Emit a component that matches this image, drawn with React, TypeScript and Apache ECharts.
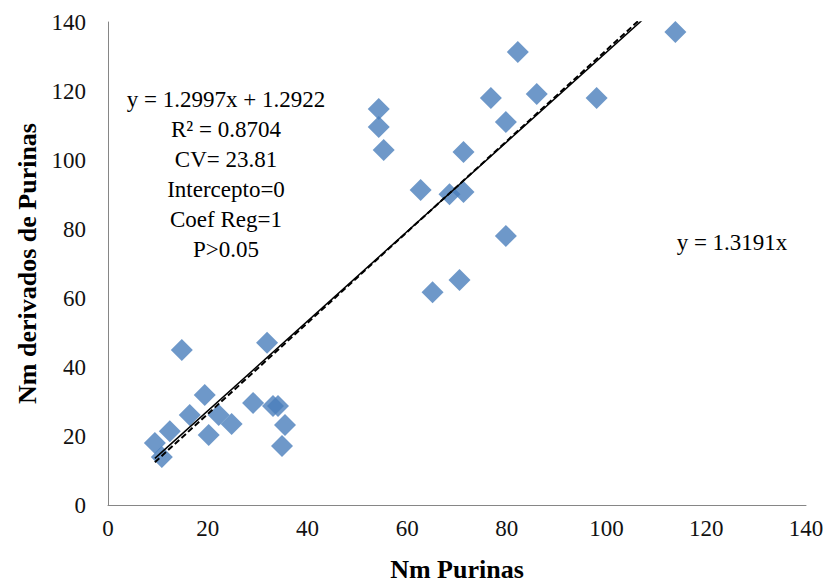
import React, { useEffect, useRef } from "react";
import * as echarts from "echarts";

// Observed purine values (x) and purine-derivative values (y)
const nmPurinas = [
  113.8, 82.2, 86.0, 76.8, 98.0, 79.8, 54.3, 54.3, 55.3, 71.3, 62.7, 68.5, 71.3,
  79.8, 65.1, 70.5, 14.8, 31.9, 19.4, 16.4, 29.1, 22.2, 24.8, 33.1, 34.1, 35.5,
  34.9, 20.2, 12.4, 9.4, 10.8,
];
const nmDerivados = [
  137.1, 131.3, 119.1, 118.0, 118.0, 111.0, 114.8, 109.6, 102.9, 102.3, 91.3, 90.1,
  90.7, 78.0, 61.7, 65.2, 44.9, 47.0, 31.9, 26.1, 29.6, 26.1, 23.5, 28.7, 28.7,
  23.2, 17.1, 20.3, 21.4, 18.0, 13.9,
];

// Fitted regressions
const slopeFit = 1.2997;
const interceptFit = 1.2922;
const slopeOrigin = 1.3191;

const xTicks = [0, 20, 40, 60, 80, 100, 120, 140];

const statsLines = [
  "y = 1.2997x + 1.2922",
  "R² = 0.8704",
  "CV= 23.81",
  "Intercepto=0",
  "Coef Reg=1",
  "P>0.05",
];
const originLabel = "y = 1.3191x";

const FONT = "'Liberation Serif', 'Times New Roman', serif";

export default function App() {
  const ref = useRef<HTMLDivElement>(null);

  useEffect(() => {
    if (!ref.current) return;
    const chart = echarts.init(ref.current, undefined, { renderer: "svg" });

    const xMin = Math.min(...nmPurinas);
    const xMax = Math.max(...nmPurinas);
    const fitLine = [
      [xMin, slopeFit * xMin + interceptFit],
      [xMax, slopeFit * xMax + interceptFit],
    ];
    const originLine = [
      [xMin, slopeOrigin * xMin],
      [xMax, slopeOrigin * xMax],
    ];

    chart.setOption({
      animation: false,
      backgroundColor: "#ffffff",
      grid: {
        left: 108,
        top: 22,
        right: 23,
        bottom: 80,
        containLabel: false,
        outerBoundsMode: "none",
      },
      xAxis: {
        type: "value",
        min: xTicks[0],
        max: xTicks[xTicks.length - 1],
        interval: 20,
        name: "Nm Purinas",
        nameLocation: "middle",
        nameGap: 51,
        nameTextStyle: {
          fontFamily: FONT,
          fontWeight: "bold",
          fontSize: 26,
          lineHeight: 26,
          color: "#000",
        },
        axisLine: { show: true, lineStyle: { color: "#868686", width: 1 } },
        axisTick: { show: false },
        splitLine: { show: false },
        axisLabel: { fontFamily: FONT, fontSize: 23, color: "#111", margin: 12 },
      },
      yAxis: {
        type: "value",
        min: 0,
        max: 140,
        interval: 20,
        name: "Nm derivados de Purinas",
        nameLocation: "middle",
        nameGap: 66,
        nameTextStyle: { fontFamily: FONT, fontWeight: "bold", fontSize: 26, color: "#000" },
        axisLine: { show: true, lineStyle: { color: "#868686", width: 1 } },
        axisTick: { show: false },
        splitLine: { show: false },
        axisLabel: { fontFamily: FONT, fontSize: 23, color: "#111", margin: 22 },
      },
      series: [
        {
          type: "line",
          data: originLine,
          symbol: "none",
          clip: true,
          lineStyle: { color: "#000", width: 2, type: [6, 3] },
          z: 3,
        },
        {
          type: "line",
          data: fitLine,
          symbol: "none",
          clip: true,
          lineStyle: { color: "#000", width: 1.5 },
          z: 4,
        },
        {
          type: "scatter",
          data: nmPurinas.map((x, i) => [x, nmDerivados[i]]),
          symbol: "diamond",
          symbolSize: 22,
          itemStyle: { color: "#4A7EBB" },
          z: 2,
        },
      ],
      graphic: [
        ...statsLines.map((t, i) => ({
          type: "text",
          x: 226,
          y: 99 + i * 30,
          style: {
            text: t,
            fontFamily: FONT,
            fontSize: 23,
            fill: "#000",
            align: "center",
            verticalAlign: "middle",
          },
        })),
        {
          type: "text",
          x: 732,
          y: 242,
          style: {
            text: originLabel,
            fontFamily: FONT,
            fontSize: 23,
            fill: "#000",
            align: "center",
            verticalAlign: "middle",
          },
        },
      ],
    });

    return () => chart.dispose();
  }, []);

  return (
    <div
      ref={ref}
      style={{ position: "fixed", left: 0, top: 0, width: 829, height: 585 }}
    />
  );
}
